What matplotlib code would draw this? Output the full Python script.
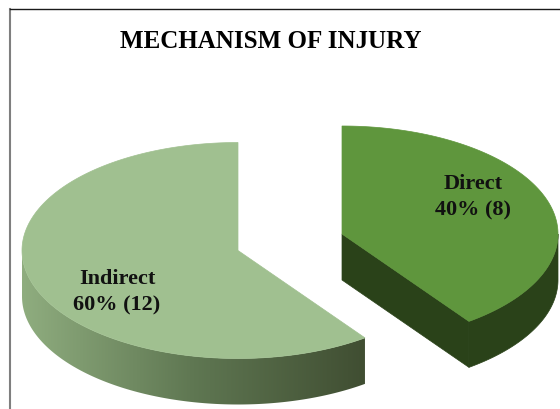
import matplotlib
matplotlib.use("Agg")
import matplotlib.pyplot as plt
import numpy as np
from matplotlib.colors import LinearSegmentedColormap
from matplotlib.patches import Polygon

title = "MECHANISM OF INJURY"
names = ["Direct", "Indirect"]
percents = [40, 60]
counts = [8, 12]

rx = 216
ry = 108
depth = 46
centres = [(342, 235), (238, 251.5)]
top_colors = ["#5f963d", "#a0c090"]
side_color = "#2a4219"
side_cmap = LinearSegmentedColormap.from_list("side", ["#8fad7f", "#5f7752", "#404e32"])
label_pos = [(473, 197), (117, 292)]

plt.rcParams["font.family"] = ["Liberation Serif", "DejaVu Serif"]

fig = plt.figure(figsize=(5.6, 4.1), dpi=100)
ax = fig.add_axes([0, 0, 1, 1])
ax.set_xlim(0, 560)
ax.set_ylim(410, 0)
ax.axis("off")


def rim(cx, cy, a0, a1, dy=0):
    # angles clockwise from twelve o'clock, in degrees
    t = np.radians(np.linspace(a0, a1, 200))
    return np.column_stack([cx + rx * np.sin(t), cy + dy - ry * np.cos(t)])


# slice angles come from the counts
angles = 360 * np.cumsum([0] + counts) / sum(counts)

# Direct slice, pulled out to the right
cx, cy = centres[0]
a0, a1 = angles[0], angles[1]
outer = rim(cx, cy, 90, a1)
ax.add_patch(Polygon(np.vstack([outer, rim(cx, cy, a1, 90, depth)]), fc=side_color, ec=side_color, lw=0.5))
tip = rim(cx, cy, a1, a1 + 0.001)[0]
cut = [(cx, cy), tip, (tip[0], tip[1] + depth), (cx, cy + depth)]
ax.add_patch(Polygon(cut, fc=side_color, ec=side_color, lw=0.5))
ax.add_patch(Polygon(np.vstack([[(cx, cy)], rim(cx, cy, a0, a1)]), fc=top_colors[0], ec=top_colors[0], lw=0.5))

# Indirect slice, side wall has the left to right shading
cx, cy = centres[1]
a0, a1 = angles[1], angles[2]
wall = Polygon(np.vstack([rim(cx, cy, a0, 270), rim(cx, cy, 270, a0, depth)]), fc="none", ec="none")
ax.add_patch(wall)
xs = rim(cx, cy, a0, 270)[:, 0]
grad = np.linspace(0, 1, 256).reshape(1, -1)
im = ax.imshow(grad, cmap=side_cmap, aspect="auto", extent=(xs.min(), xs.max(), 410, 0), zorder=1)
im.set_clip_path(wall)
ax.set_xlim(0, 560)
ax.set_ylim(410, 0)
ax.add_patch(Polygon(np.vstack([[(cx, cy)], rim(cx, cy, a0, a1)]), fc=top_colors[1], ec=top_colors[1], lw=0.5, zorder=2))

# frame of the chart area
ax.plot([9.5, 9.5], [9.5, 410], color="#7f7f7f", lw=1.5, zorder=3)
ax.plot([9.5, 560], [9.5, 9.5], color="#1a1a1a", lw=1.0, zorder=3)

ax.text(271, 41, title, ha="center", va="center", fontsize=18, fontweight="bold", color="black", zorder=4)
for name, pct, n, pos in zip(names, percents, counts, label_pos):
    ax.text(pos[0], pos[1], "%s\n%d%% (%d)" % (name, pct, n), ha="center", va="center",
            fontsize=16, fontweight="bold", linespacing=1.45, color="#111111", zorder=4)

fig.savefig("out.png", dpi=100)
